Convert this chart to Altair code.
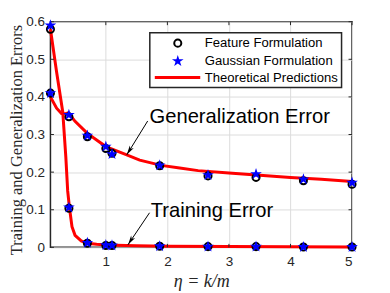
import altair as alt
import pandas as pd

# ---- data ----
eta_pts = [0.1, 0.4, 0.7, 1.0, 1.1, 1.875, 2.66, 3.44, 4.21, 5.0]
feat_gen = [0.41, 0.347, 0.294, 0.263, 0.250, 0.217, 0.190, 0.186, 0.177, 0.168]
gauss_gen = [0.41, 0.352, 0.297, 0.268, 0.248, 0.218, 0.192, 0.195, 0.181, 0.172]
feat_train = [0.58, 0.104, 0.011, 0.005, 0.005, 0.003, 0.002, 0.002, 0.001, 0.001]
gauss_train = [0.59, 0.106, 0.012, 0.006, 0.005, 0.003, 0.002, 0.002, 0.001, 0.001]

eta_th_gen = [0.1, 0.2, 0.28, 0.34, 0.39, 0.5, 0.7, 1.0, 1.34, 1.55, 1.9, 2.2, 2.5, 3.0, 3.5, 4.0, 4.5, 5.0]
gen_th = [0.40, 0.37, 0.356, 0.355, 0.358, 0.335, 0.303, 0.268, 0.246, 0.232, 0.218, 0.211, 0.204, 0.198, 0.192, 0.186, 0.181, 0.175]

eta_th_train = [0.1, 0.2, 0.3, 0.35, 0.38, 0.41, 0.45, 0.5, 0.6, 0.7, 0.85, 1.0, 1.5, 2.0, 3.0, 4.0, 5.0]
train_th = [0.58, 0.466, 0.36, 0.24, 0.15, 0.104, 0.055, 0.032, 0.017, 0.011, 0.008, 0.006, 0.004, 0.003, 0.002, 0.0015, 0.001]

x_ticks = [1, 2, 3, 4, 5]
y_ticks = [0, 0.1, 0.2, 0.3, 0.4, 0.5, 0.6]

legend_labels = ["Feature Formulation", "Gaussian Formulation", "Theoretical Predictions"]

ann_text = ["Generalization Error", "Training Error"]
ann_text_x = [1.71, 1.73]
ann_text_y = [0.347, 0.097]
ann_from_x = [1.68, 1.71]
ann_from_y = [0.336, 0.092]
ann_tip_x = [1.34, 1.36]
ann_tip_y = [0.246, 0.007]
ann_angle = [212, 213]

# ---- tables ----
pts = pd.DataFrame({
    "eta": eta_pts * 2,
    "feat": feat_gen + feat_train,
    "gauss": gauss_gen + gauss_train,
})
th = pd.DataFrame({
    "eta": eta_th_gen + eta_th_train,
    "err": gen_th + train_th,
    "curve": ["gen"] * len(eta_th_gen) + ["train"] * len(eta_th_train),
})
ann = pd.DataFrame({
    "text": ann_text, "tx": ann_text_x, "ty": ann_text_y,
    "fx": ann_from_x, "fy": ann_from_y,
    "px": ann_tip_x, "py": ann_tip_y, "ang": ann_angle,
})
xt = pd.DataFrame({"v": x_ticks})
yt = pd.DataFrame({"v": y_ticks})
one = pd.DataFrame({"k": [0]})

W, H = 302, 226
AX = "#262626"
SANS = "Liberation Sans"
SERIF = "Liberation Serif"
STAR = ("M0,-1L0.225,-0.309L0.951,-0.309L0.363,0.118L0.588,0.809L0,0.382"
        "L-0.588,0.809L-0.363,0.118L-0.951,-0.309L-0.225,-0.309Z")
HEAD = "M0,0L0.5,2L0,1.45L-0.5,2Z"

xs = alt.Scale(domain=[0.1, 5], nice=False, zero=False)
ys = alt.Scale(domain=[0, 0.6], nice=False)

x_axis = alt.Axis(values=x_ticks, format="d", grid=True, gridColor="#dcdcdc",
                  ticks=False, domain=False, labelFont=SANS, labelFontSize=13.5,
                  labelColor=AX, labelPadding=7, title="η = k/m",
                  titleFont=SERIF, titleFontStyle="italic", titleFontWeight="normal",
                  titleFontSize=18, titleColor=AX, titleY=34.5, titleBaseline="middle")
y_axis = alt.Axis(values=y_ticks, format=".1f", grid=True, gridColor="#dcdcdc", ticks=False,
                  domain=False, labelFont=SANS, labelFontSize=13.5, labelColor=AX,
                  labelPadding=6, labelOverlap=False,
                  labelExpr="datum.value == 0 ? '0' : datum.label",
                  title="Training and Generalization Errors", titleFont=SERIF,
                  titleFontWeight="normal", titleFontSize=16.5, titleColor=AX,
                  titleX=-33.5, titleY=118, titleAlign="center", titleBaseline="middle",
                  titleAngle=270)


def X(field):
    return alt.X(field, scale=xs, axis=x_axis)


def Y(field):
    return alt.Y(field, scale=ys, axis=y_axis)


lines = alt.Chart(th).mark_line(color="#ff0000", strokeWidth=3).encode(
    x=X("eta:Q"), y=Y("err:Q"), detail="curve:N")

circles = alt.Chart(pts).mark_point(shape="circle", filled=False, color="black",
                                    strokeWidth=2, size=50, opacity=1).encode(
    x=X("eta:Q"), y=Y("feat:Q"))
stars = alt.Chart(pts).mark_point(shape=STAR, filled=True, color="#0000ff",
                                  size=150, opacity=1).encode(
    x=X("eta:Q"), y=Y("gauss:Q"))

# inward ticks on all four sides
tick_b = alt.Chart(xt).mark_rule(color=AX, strokeWidth=1).encode(
    x=X("v:Q"), y=alt.value(H), y2=alt.value(H - 3.5))
tick_t = alt.Chart(xt).mark_rule(color=AX, strokeWidth=1).encode(
    x=X("v:Q"), y=alt.value(0), y2=alt.value(3.5))
tick_l = alt.Chart(yt).mark_rule(color=AX, strokeWidth=1).encode(
    y=Y("v:Q"), x=alt.value(0), x2=alt.value(3.5))
tick_r = alt.Chart(yt).mark_rule(color=AX, strokeWidth=1).encode(
    y=Y("v:Q"), x=alt.value(W), x2=alt.value(W - 3.5))

# annotations
ann_txt = alt.Chart(ann).mark_text(font=SANS, fontSize=20.2, align="left",
                                   baseline="middle", color="black").encode(
    x=X("tx:Q"), y=Y("ty:Q"), text="text:N")
ann_line = alt.Chart(ann).mark_rule(color="black", strokeWidth=1).encode(
    x=X("fx:Q"), y=Y("fy:Q"), x2="px:Q", y2="py:Q")
ann_head = alt.Chart(ann).mark_point(shape=HEAD, filled=True, color="black",
                                     size=90, opacity=1).encode(
    x=X("px:Q"), y=Y("py:Q"), angle=alt.Angle("ang:Q", scale=None))

# legend (drawn inside the plot)
leg_box = alt.Chart(one).mark_rect(fill="white", stroke=AX, strokeWidth=1.5).encode(
    x=alt.value(99.5), x2=alt.value(291.5), y=alt.value(11), y2=alt.value(66))
leg_c = alt.Chart(one).mark_point(shape="circle", filled=False, color="black",
                                  strokeWidth=2, size=50, opacity=1).encode(
    x=alt.value(127.5), y=alt.value(21.5))
leg_s = alt.Chart(one).mark_point(shape=STAR, filled=True, color="#0000ff",
                                  size=150, opacity=1).encode(
    x=alt.value(127.5), y=alt.value(39.5))
leg_l = alt.Chart(one).mark_rule(color="#ff0000", strokeWidth=3).encode(
    x=alt.value(104.5), x2=alt.value(150), y=alt.value(56))
leg_texts = [
    alt.Chart(one).mark_text(font=SANS, fontSize=13.1, align="left", baseline="middle",
                             color="black", text=lab).encode(
        x=alt.value(154.5), y=alt.value(yy))
    for lab, yy in zip(legend_labels, [21.5, 39.5, 56])
]

chart = alt.layer(
    lines, tick_b, tick_t, tick_l, tick_r,
    circles, stars, ann_line, ann_head, ann_txt,
    leg_box, leg_c, leg_s, leg_l, *leg_texts,
).properties(
    width=W, height=H,
    autosize=alt.AutoSizeParams(type="none"),
    padding={"left": 42.5, "top": 13.5, "right": 30, "bottom": 45},
    background="white",
).configure_view(stroke=AX, strokeWidth=1.5)

chart.save("out.html", embed_options={"renderer": "svg", "actions": False})
